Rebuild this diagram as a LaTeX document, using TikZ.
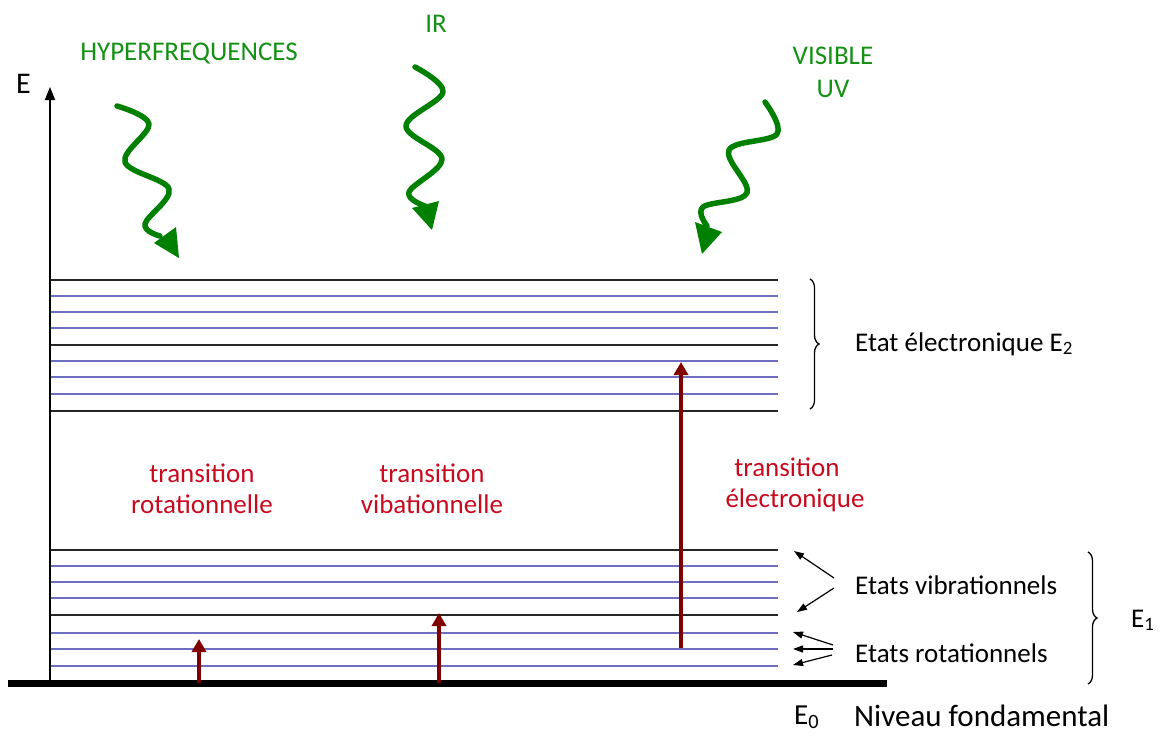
\documentclass[tikz,border=0pt]{standalone}
\usepackage{fontspec}
\setmainfont{Carlito}
\usetikzlibrary{arrows.meta,decorations.pathreplacing}
\definecolor{grn}{RGB}{0,128,0}
\definecolor{grntext}{RGB}{20,145,20}
\definecolor{dred}{RGB}{128,0,0}
\definecolor{tred}{RGB}{200,10,30}
\definecolor{lblue}{RGB}{110,110,195}
\begin{document}
\begin{tikzpicture}[x=1pt,y=-1pt,
  lvl/.style={line width=2pt,black!85},
  sublvl/.style={line width=1.4pt,lblue},
  wave/.style={grn,line width=5.5pt,line cap=round,line join=round},
  wavehead/.style={grn},
  redarrow/.style={dred,line width=4pt,-{Triangle[length=13pt,width=14pt]}},
  pointer/.style={black,line width=1.2pt,-{Triangle[length=10pt,width=7pt]}},
  bracestyle/.style={line width=1.3pt,decorate,decoration={brace,amplitude=9pt}},
  lbl/.style={font=\fontsize{27}{32}\selectfont,inner sep=0pt,anchor=base west},
  clbl/.style={font=\fontsize{27}{32}\selectfont,inner sep=0pt,anchor=base},
]
\useasboundingbox (0,0) rectangle (1160,736);

% sub-levels
\foreach \y in {296,312,328,361,377,394,566,582,598,633,649,666}
  \draw[sublvl] (50,\y) -- (778,\y);
% main levels
\foreach \y in {280,345,411,550,615}
  \draw[lvl] (50,\y) -- (778,\y);

% ground line and axis
\coordinate (g0) at (8,683);
\coordinate (g1) at (887,683);
\draw[line width=7pt] (g0) -- (g1);
\coordinate (ax0) at (50,686);
\coordinate (ax1) at (50,87);
\draw[line width=1.8pt,-{Triangle[length=13pt,width=10pt]}] (ax0) -- (ax1);
\node[lbl] (E) at (16,93) {\fontsize{30}{34}\selectfont E};

% red transitions
\coordinate (r0) at (199,683); \coordinate (r1) at (199,639);
\coordinate (v0) at (439,683); \coordinate (v1) at (439,613);
\coordinate (e0) at (681,648); \coordinate (e1) at (681,362);
\draw[redarrow] (r0) -- (r1);
\draw[redarrow] (v0) -- (v1);
\draw[redarrow] (e0) -- (e1);

\node[clbl,text=tred] (rot1) at (202,482) {transition};
\node[clbl,text=tred] (rot2) at (202,513) {rotationnelle};
\node[clbl,text=tred] (vib1) at (432,482) {transition};
\node[clbl,text=tred] (vib2) at (432,513) {vibationnelle};
\node[clbl,text=tred] (ele1) at (787,476) {transition};
\node[clbl,text=tred] (ele2) at (795,507) {électronique};

% green labels
\node[clbl,text=grntext] (hyp) at (189,60) {HYPERFREQUENCES};
\node[clbl,text=grntext] (ir) at (436,32) {IR};
\node[clbl,text=grntext] (vis) at (833,64) {VISIBLE};
\node[clbl,text=grntext] (uv) at (833,97) {UV};

% green waves
\draw[wave] plot[smooth,tension=0.6] coordinates {(117,106) (149,124) (125,162) (169,189) (145,224) (160,236)};
\fill[wavehead] (154,243) -- (176,227) -- (179,258) -- cycle;
\draw[wave] plot[smooth,tension=0.6] coordinates {(415,67) (443,92) (406,126) (442,159) (409,192) (425,206)};
\fill[wavehead] (412,208) -- (439,201) -- (432,230) -- cycle;
\draw[wave] plot[smooth,tension=0.6] coordinates {(765,102) (777,134) (729,150) (747,193) (703,207) (707,226)};
\fill[wavehead] (695,222) -- (722,232) -- (702,254) -- cycle;

% braces
\draw[bracestyle] (810,279) -- (810,409);
\draw[bracestyle] (1088,552) -- (1088,684);

% right labels
\node[lbl] (e2lab) at (855,351) {Etat électronique E\textsubscript{2}};
\node[lbl] (vibst) at (855,594) {Etats vibrationnels};
\node[lbl] (rotst) at (855,662) {Etats rotationnels};
\node[lbl] (E1) at (1131,627) {E\textsubscript{1}};
\node[lbl,font=\fontsize{29}{34}\selectfont] (E0) at (794,724) {E\textsubscript{0}};
\node[lbl,font=\fontsize{31}{36}\selectfont] (nf) at (854,726) {Niveau fondamental};

% pointers
\coordinate (pv1) at (794,551); \coordinate (pv2) at (797,612);
\coordinate (pr1) at (793,632); \coordinate (pr2) at (793,649); \coordinate (pr3) at (793,665);
\coordinate (sv1) at (834,578); \coordinate (sv2) at (834,588);
\coordinate (sr1) at (833,645); \coordinate (sr2) at (833,649); \coordinate (sr3) at (832,655);
\draw[pointer] (sv1) -- (pv1);
\draw[pointer] (sv2) -- (pv2);
\draw[pointer] (sr1) -- (pr1);
\draw[pointer] (sr2) -- (pr2);
\draw[pointer] (sr3) -- (pr3);
\end{tikzpicture}
\end{document}
